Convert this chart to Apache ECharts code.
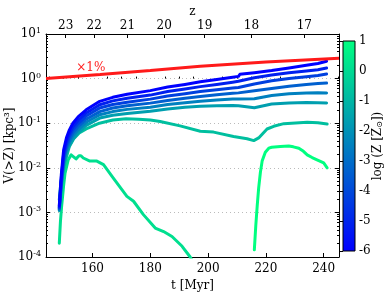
<!DOCTYPE html>
<html><head><meta charset="utf-8">
<script src="https://cdn.jsdelivr.net/npm/echarts@6/dist/echarts.min.js"></script>
<style>html,body{margin:0;padding:0;background:#fff}#c{width:390px;height:293px}</style>
</head><body><div id="c"></div>
<script>
const FONT = 'DejaVu Serif';
// x axis (t [Myr])
const tMin = 143.9, tMax = 245.3;
const xTickLabels = [160, 180, 200, 220, 240];
const xMinorTicks = [145,150,155,165,170,175,185,190,195,205,210,215,225,230,235,245];
// top axis (redshift z) : tick positions in t and their labels
const zTickT = [150.7, 160.6, 172.1, 184.8, 198.8, 215.0, 233.3];
const zTickLabels = ['23', '22', '21', '20', '19', '18', '17'];
// y axis decades
const yMinExp = -4, yMaxExp = 1;
// colorbar
const cbarMin = -6, cbarMax = 1;
const cbarTicks = [-6, -5, -4, -3, -2, -1, 0, 1];
// metallicity threshold of each curve (log Z/Zsun)
const levels = [-6, -5.125, -4.25, -3.375, -2.5, -1.625, -0.75, 0.125, 1];

// red reference line (x1%) : t, log10 V
const tRed   = [143.9, 162.6, 180, 197.3, 220, 245.3];
const logRed = [0.0, 0.09, 0.18, 0.275, 0.37, 0.455];

// bundle of curves 1-6 share the same times
const tBundle = [148.5,149.2,150,151,152,153.2,155,157.8,162.5,167,172,180,186,192,197.3,203,208.5,210.5,211,216,222,228,234,238,241];
const logL1 = [-2.85,-2.15,-1.6,-1.32,-1.15,-1.0,-0.86,-0.70,-0.51,-0.42,-0.35,-0.27,-0.19,-0.13,-0.07,-0.02,0.03,0.05,0.095,0.13,0.18,0.24,0.30,0.34,0.39];
const logL2 = [-2.88,-2.22,-1.68,-1.40,-1.23,-1.08,-0.94,-0.77,-0.585,-0.50,-0.44,-0.37,-0.29,-0.235,-0.18,-0.13,-0.08,-0.06,-0.025,0.02,0.08,0.13,0.17,0.20,0.238];
const logL3 = [-2.9,-2.28,-1.75,-1.47,-1.30,-1.15,-1.01,-0.84,-0.66,-0.58,-0.53,-0.46,-0.39,-0.34,-0.29,-0.25,-0.21,-0.20,-0.17,-0.12,-0.05,0.0,0.04,0.07,0.103];
const logL4 = [-2.92,-2.33,-1.82,-1.54,-1.37,-1.22,-1.08,-0.91,-0.74,-0.66,-0.61,-0.55,-0.49,-0.44,-0.40,-0.36,-0.33,-0.32,-0.30,-0.27,-0.22,-0.17,-0.13,-0.11,-0.099];
const logL5 = [-2.94,-2.38,-1.88,-1.60,-1.43,-1.29,-1.15,-0.98,-0.81,-0.74,-0.69,-0.64,-0.58,-0.54,-0.51,-0.48,-0.46,-0.455,-0.45,-0.45,-0.38,-0.34,-0.325,-0.32,-0.323];
const logL6 = [-2.96,-2.43,-1.95,-1.67,-1.50,-1.36,-1.22,-1.05,-0.885,-0.82,-0.78,-0.73,-0.68,-0.645,-0.62,-0.61,-0.605,-0.61,-0.615,-0.655,-0.57,-0.545,-0.535,-0.54,-0.547];
// curve 7
const tL7   = [148.5,149,149.7,150.8,152,153.5,155.4,157.8,162.4,167,171.6,176,180,183.4,190.3,197.3,201.9,208.8,213.5,215.8,217.5,220.4,222.7,226.2,234.3,238,241.2];
const logL7 = [-2.72,-2.35,-2.12,-1.80,-1.52,-1.35,-1.22,-1.13,-1.0,-0.93,-0.9,-0.91,-0.93,-0.96,-1.06,-1.18,-1.2,-1.3,-1.35,-1.39,-1.33,-1.13,-1.07,-1.01,-0.98,-0.99,-1.02];
// curve 8 (early, falling off)
const tL8   = [148.5,148.9,149.3,150,150.5,151.6,152.6,153.2,154.3,155.3,156,156.8,159.1,161.5,163.8,167.2,171.9,174.2,177.6,181.7,184.6,187.5,191,193.8,196];
const logL8 = [-3.69,-3.2,-2.87,-2.4,-2.12,-1.82,-1.71,-1.68,-1.80,-1.73,-1.73,-1.78,-1.85,-1.85,-1.93,-2.23,-2.64,-2.75,-3.05,-3.35,-3.43,-3.54,-3.76,-4.0,-4.25];
// curve 9 (late)
const tL9   = [216.0,216.5,217.0,217.5,218.1,218.7,219.8,221,222,225,227.9,229.5,231.4,233,234.3,236,237.7,240,241.2];
const logL9 = [-3.84,-3.3,-2.85,-2.45,-2.1,-1.85,-1.65,-1.56,-1.54,-1.52,-1.51,-1.53,-1.56,-1.63,-1.71,-1.77,-1.82,-1.89,-2.0];

const curves = [
  [tBundle, logL1, levels[0]], [tBundle, logL2, levels[1]], [tBundle, logL3, levels[2]],
  [tBundle, logL4, levels[3]], [tBundle, logL5, levels[4]], [tBundle, logL6, levels[5]],
  [tL7, logL7, levels[6]], [tL8, logL8, levels[7]], [tL9, logL9, levels[8]]
];

function winter(v) {
  const f = (v - cbarMin) / (cbarMax - cbarMin);
  return 'rgb(0,' + Math.round(255 * f) + ',' + Math.round(255 * (1 - 0.5 * f)) + ')';
}
const pairs = (t, lg) => t.map((x, i) => [x, Math.pow(10, lg[i])]);

const yMinor = [];
for (let e = yMinExp; e < yMaxExp; e++) for (let m = 2; m <= 9; m++) yMinor.push(e + Math.log10(m));

const series = curves.slice().reverse().map(c => ({
  type: 'line', data: pairs(c[0], c[1]), showSymbol: false, symbol: 'none',
  lineStyle: { color: winter(c[2]), width: 3, cap: 'round', join: 'round' }, z: 3, clip: true
}));
series.push({
  type: 'line', data: pairs(tRed, logRed), showSymbol: false, symbol: 'none',
  lineStyle: { color: '#ff1a1a', width: 3 }, z: 4, clip: true,
  markPoint: { symbol: 'circle', symbolSize: 0, data: [{ coord: [159.4, 1.75] }],
    label: { show: true, formatter: '\u00d71%', color: '#ff2020', fontFamily: FONT, fontSize: 12, position: 'inside' } }
});
series.push({
  type: 'custom', xAxisIndex: 3, yAxisIndex: 4, data: [[0, 0]], silent: true,
  renderItem: (params, api) => {
    const p0 = api.coord([0, cbarMax]), p1 = api.coord([1, cbarMin]);
    return { type: 'rect', shape: { x: p0[0], y: p0[1], width: p1[0] - p0[0], height: p1[1] - p0[1] },
      style: { fill: new echarts.graphic.LinearGradient(0, 0, 0, 1, [
        { offset: 0, color: winter(cbarMax) }, { offset: 1, color: winter(cbarMin) }]), stroke: '#000', lineWidth: 1 } };
  }
});

const lbl = { color: '#000', fontFamily: FONT, fontSize: 12 };
const tickStyle = { color: '#000', width: 1 };
const chart = echarts.init(document.getElementById('c'), null, { renderer: 'canvas' });
chart.setOption({
  animation: false,
  backgroundColor: '#fff',
  grid: [
    { left: 46, right: 51, top: 34, bottom: 36, outerBoundsMode: 'none', containLabel: false },
    { left: 343, width: 12, top: 41, height: 210, outerBoundsMode: 'none', containLabel: false }
  ],
  xAxis: [
    { type: 'value', gridIndex: 0, min: tMin, max: tMax, position: 'bottom',
      name: 't [Myr]', nameLocation: 'middle', nameGap: 23, nameMoveOverlap: false, nameTextStyle: lbl,
      axisLine: { show: true, onZero: false, lineStyle: { color: '#000', width: 1 } },
      axisTick: { show: true, inside: true, length: 4, lineStyle: tickStyle, customValues: xTickLabels },
      axisLabel: { ...lbl, margin: 6, customValues: xTickLabels }, splitLine: { show: false } },
    { type: 'value', gridIndex: 0, min: tMin, max: tMax, position: 'bottom',
      axisLine: { show: false }, axisLabel: { show: false }, splitLine: { show: false },
      axisTick: { show: true, inside: true, length: 2, lineStyle: tickStyle, customValues: xMinorTicks } },
    { type: 'value', gridIndex: 0, min: tMin, max: tMax, position: 'top',
      name: 'z', nameLocation: 'middle', nameGap: 16, nameMoveOverlap: false, nameTextStyle: lbl,
      axisLine: { show: true, onZero: false, lineStyle: { color: '#000', width: 1 } },
      axisTick: { show: true, inside: true, length: 4, lineStyle: tickStyle, customValues: zTickT },
      axisLabel: { ...lbl, margin: 2, customValues: zTickT, formatter: v => {
        let best = 0; zTickT.forEach((t, i) => { if (Math.abs(t - v) < Math.abs(zTickT[best] - v)) best = i; });
        return zTickLabels[best]; } },
      splitLine: { show: false } },
    { type: 'value', gridIndex: 1, min: 0, max: 1, show: false }
  ],
  yAxis: [
    { type: 'log', logBase: 10, gridIndex: 0, min: Math.pow(10, yMinExp), max: Math.pow(10, yMaxExp), position: 'left',
      name: 'V(>Z) [kpc\u00b3]', nameLocation: 'middle', nameGap: 30, nameMoveOverlap: false, nameTextStyle: lbl,
      axisLine: { show: true, onZero: false, lineStyle: { color: '#000', width: 1 } },
      axisTick: { show: true, inside: true, length: 4, lineStyle: tickStyle },
      axisLabel: { color: '#000', margin: 5, formatter: v => '{b|10}{s|' + Math.round(Math.log10(v)) + '}',
        rich: { b: { fontFamily: FONT, fontSize: 12, lineHeight: 14, color: '#000' },
                s: { fontFamily: FONT, fontSize: 8, lineHeight: 8, verticalAlign: 'top', color: '#000' } } },
      splitLine: { show: true, lineStyle: { color: '#bbb', width: 1, type: [1, 3] } } },
    { type: 'value', gridIndex: 0, min: yMinExp, max: yMaxExp, position: 'left',
      axisLine: { show: false }, axisLabel: { show: false }, splitLine: { show: false },
      axisTick: { show: true, inside: true, length: 2, lineStyle: tickStyle, customValues: yMinor } },
    { type: 'log', logBase: 10, gridIndex: 0, min: Math.pow(10, yMinExp), max: Math.pow(10, yMaxExp), position: 'right',
      axisLine: { show: true, onZero: false, lineStyle: { color: '#000', width: 1 } },
      axisTick: { show: true, inside: true, length: 4, lineStyle: tickStyle },
      axisLabel: { show: false }, splitLine: { show: false } },
    { type: 'value', gridIndex: 0, min: yMinExp, max: yMaxExp, position: 'right',
      axisLine: { show: false }, axisLabel: { show: false }, splitLine: { show: false },
      axisTick: { show: true, inside: true, length: 2, lineStyle: tickStyle, customValues: yMinor } },
    { type: 'value', gridIndex: 1, min: cbarMin, max: cbarMax, position: 'right',
      name: 'log (Z [Z{sub|\u2299}])', nameLocation: 'middle', nameGap: 17, nameMoveOverlap: false,
      nameTextStyle: { ...lbl, rich: { sub: { fontFamily: FONT, fontSize: 8, verticalAlign: 'bottom', color: '#000' } } },
      axisLine: { show: false },
      axisTick: { show: true, inside: true, length: 4, lineStyle: tickStyle, customValues: cbarTicks },
      axisLabel: { ...lbl, margin: 4, customValues: cbarTicks, formatter: v => String(Math.round(v)) },
      splitLine: { show: false } }
  ],
  series: series
});
</script>
</body></html>
